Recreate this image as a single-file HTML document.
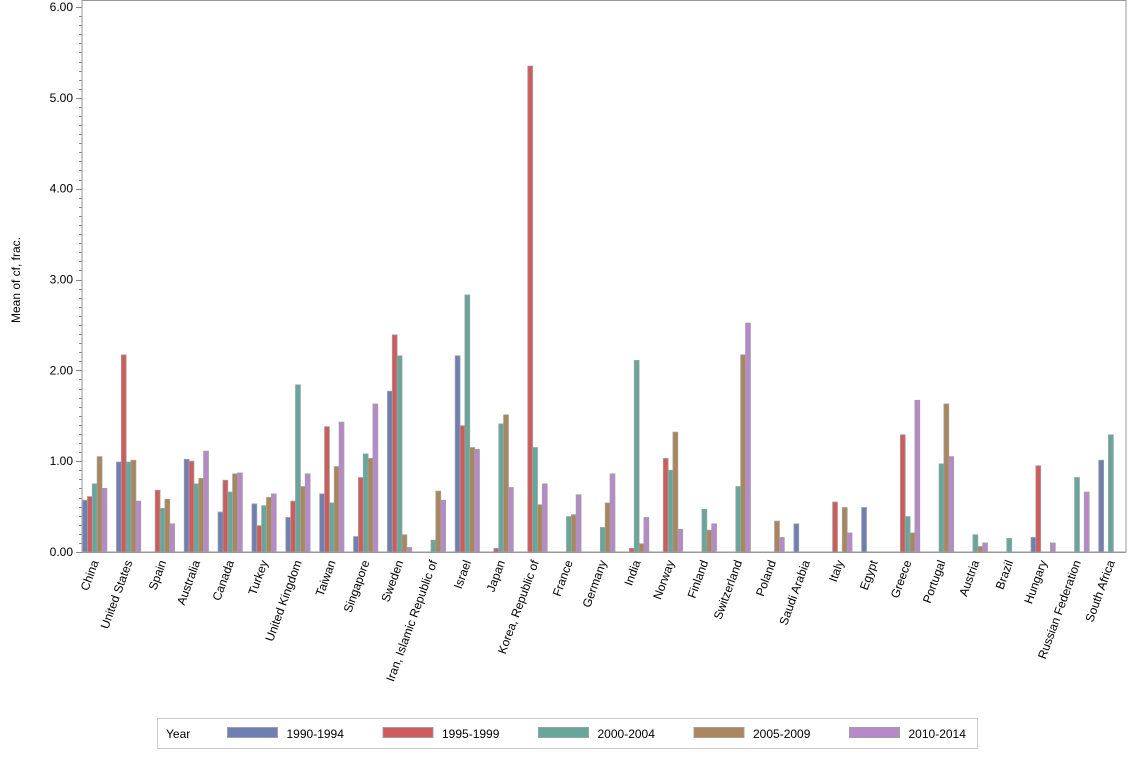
<!DOCTYPE html>
<html><head><meta charset="utf-8"><style>
body{margin:0;background:#fff;}
svg text{font-family:"Liberation Sans",Arial,sans-serif;fill:#000;}
</style></head><body>
<svg id="chart" width="1134" height="756" xmlns="http://www.w3.org/2000/svg">
<g id="plot"></g>
</svg>
<script>
const categories=["China","United States","Spain","Australia","Canada","Turkey","United Kingdom","Taiwan","Singapore","Sweden","Iran, Islamic Republic of","Israel","Japan","Korea, Republic of","France","Germany","India","Norway","Finland","Switzerland","Poland","Saudi Arabia","Italy","Egypt","Greece","Portugal","Austria","Brazil","Hungary","Russian Federation","South Africa"];
const seriesNames=["1990-1994","1995-1999","2000-2004","2005-2009","2010-2014"];
const s1990=[.57,.99,null,1.02,.44,.53,.38,.64,.17,1.77,null,2.16,null,null,null,null,null,null,null,null,null,.31,null,.49,null,null,null,null,.16,null,1.01];
const s1995=[.61,2.17,.68,1.00,.79,.29,.56,1.38,.82,2.39,null,1.39,.04,5.35,null,null,.04,1.03,null,null,null,null,.55,null,1.29,null,null,null,.95,null,null];
const s2000=[.75,.99,.48,.75,.66,.51,1.84,.54,1.08,2.16,.13,2.83,1.41,1.15,.39,.27,2.11,.90,.47,.72,null,null,null,null,.39,.97,.19,.15,null,.82,1.29];
const s2005=[1.05,1.01,.58,.81,.86,.60,.72,.94,1.03,.19,.67,1.15,1.51,.52,.41,.54,.09,1.32,.24,2.17,.34,null,.49,null,.21,1.63,.06,null,null,null,null];
const s2010=[.70,.56,.31,1.11,.87,.64,.86,1.43,1.63,.05,.57,1.13,.71,.75,.63,.86,.38,.25,.31,2.52,.16,null,.21,null,1.67,1.05,.10,null,.10,.66,null];
const yTicks=["0.00","1.00","2.00","3.00","4.00","5.00","6.00"];
const series=[s1990,s1995,s2000,s2005,s2010];
const colors=["#6f7eb3","#d05b5b","#66a79c","#a9865b","#b689c8"];
const NS="http://www.w3.org/2000/svg";
const svg=document.getElementById('chart');
const X0=82,X1=1126,Y0=552,YT=7,yMax=6;
const y=v=>Y0-(v/yMax)*(Y0-YT);
const bw=4.85, gStart=82.6, gStep=(1123-82.6-5*bw)/(categories.length-1);
const gx=i=>gStart+i*gStep;
function mk(t,a){const e=document.createElementNS(NS,t);for(const k in a)e.setAttribute(k,a[k]);svg.appendChild(e);return e;}
// frame
let fr=mk('rect',{x:X0,y:0.5,width:X1-X0,height:Y0-0.5,fill:'none',stroke:'#999','stroke-width':1});


// minor ticks
for(let k=0;k<=60;k++){const v=k/10;const yy=Math.round(y(v))+0.5;const major=k%10===0;
 const t=mk('line',{x1:X0-(major?6:3),x2:X0,y1:yy,y2:yy,stroke:'#888'});
 
 }
yTicks.forEach((lab,i)=>{const tx=mk('text',{x:X0-9,y:y(parseFloat(lab))+4,'text-anchor':'end','font-size':12});tx.textContent=lab;
 
 });
const yt=mk('text',{x:0,y:0,'font-size':12,'text-anchor':'middle',transform:'translate(20,280) rotate(-90)'});
yt.textContent='Mean of cf, frac.';


// bars
categories.forEach((c,i)=>{
 series.forEach((s,j)=>{const v=s[i];if(v===null||v===undefined)return;
  const x=gx(i)+j*bw;const top=y(v);
  const r=mk('rect',{x:x,y:top,width:bw,height:Y0-top,fill:colors[j],stroke:'#a0a0a0','stroke-width':0.8});
  
  });
 const cx=gx(i)+2.5*bw;
 const t=mk('text',{x:0,y:0,'font-size':12,'text-anchor':'end',transform:`translate(${cx+4},${Y0+10}) rotate(-70)`});
 t.textContent=c;
 
 
});
// axis baseline
const bl=mk('line',{x1:X0,x2:X1,y1:Y0+0.5,y2:Y0+0.5,stroke:'#999'});


// legend
const lg=mk('rect',{x:157.5,y:718.5,width:820,height:30,fill:'#fff',stroke:'#ccc'});


const lt=mk('text',{x:166,y:738,'font-size':12});lt.textContent='Year';


seriesNames.forEach((n,j)=>{const sx=227.5+j*155.5;
 const sw=mk('rect',{x:sx,y:727.5,width:50,height:10,fill:colors[j],stroke:'#a0a0a0'});
 
 
 const tx=mk('text',{x:sx+59,y:738,'font-size':12});tx.textContent=n;
 
 });
</script>
</body></html>
